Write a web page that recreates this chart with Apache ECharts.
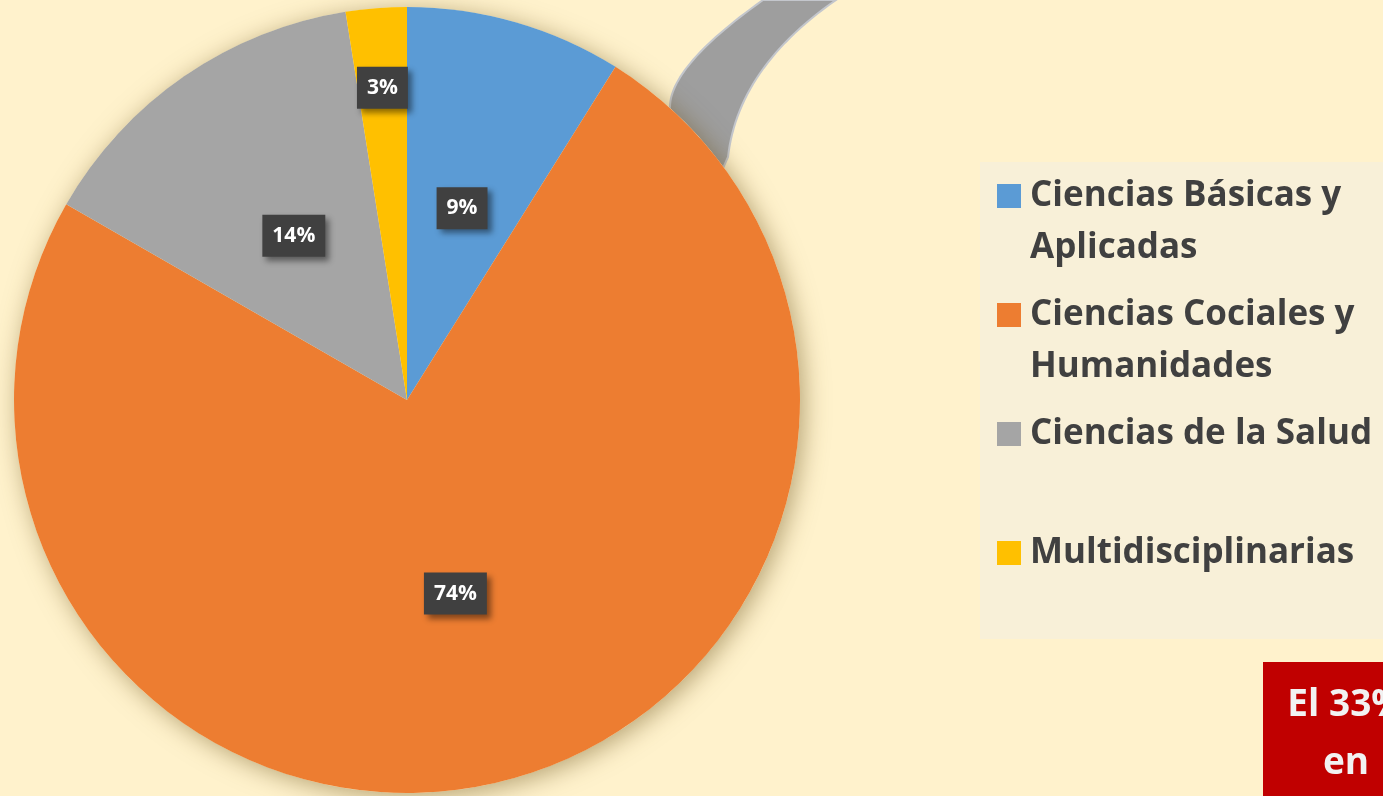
<!DOCTYPE html>
<html>
<head>
<meta charset="utf-8">
<script src="https://cdn.jsdelivr.net/npm/echarts@6/dist/echarts.min.js"></script>
<style>
html,body{margin:0;padding:0;background:#FFF2CC;}
#chart{width:1383px;height:796px;}
</style>
</head>
<body>
<div id="chart"></div>
<script>
const categories = ['Ciencias Básicas y Aplicadas', 'Ciencias Cociales y Humanidades', 'Ciencias de la Salud', 'Multidisciplinarias'];
const values = [8.9, 74.4, 14.2, 2.5];
const legendText = ['Ciencias Básicas y\nAplicadas', 'Ciencias Cociales y\nHumanidades', 'Ciencias de la Salud\n ', 'Multidisciplinarias\n '];
const colors = ['#5B9BD5', '#ED7D31', '#A5A5A5', '#FFC000'];
const noteLines = ['El 33%', 'en'];

const pieCenter = [407, 400];
const pieRadius = 393;
const total = values.reduce((a, b) => a + b, 0);

// decorative curved band (callout arrow shaft) behind the pie
function quad(p0, c, p1, n) {
  const pts = [];
  for (let i = 0; i <= n; i++) {
    const t = i / n, u = 1 - t;
    pts.push([u * u * p0[0] + 2 * u * t * c[0] + t * t * p1[0], u * u * p0[1] + 2 * u * t * c[1] + t * t * p1[1]]);
  }
  return pts;
}
const bandPts = [[640, 180]]
  .concat(quad([670, 107], [670, 66], [763, 0], 30))
  .concat(quad([836, 0], [738, 68], [728, 157], 30))
  .concat([[700, 220]]);

const chart = echarts.init(document.getElementById('chart'));
chart.setOption({
  backgroundColor: '#FFF2CC',
  animation: false,
  legend: {
    data: categories,
    orient: 'vertical',
    left: 980,
    top: 162,
    padding: [8, 80, 8, 17],
    backgroundColor: '#F8F0D8',
    itemGap: 15,
    itemWidth: 24,
    itemHeight: 104,
    icon: 'path://M0,14H24V38H0Z M0,0H0.01V0.01H0Z M0,104H0.01V103.99H0Z',
    selectedMode: false,
    formatter: function (name) { return legendText[categories.indexOf(name)]; },
    textStyle: {
      fontFamily: 'Open Sans',
      fontWeight: 'bold',
      fontSize: 35,
      lineHeight: 52,
      color: '#404040',
      padding: [0, 0, 0, 4]
    }
  },
  graphic: [
    {
      type: 'polygon',
      z: 1,
      shape: { points: bandPts },
      style: { fill: '#9E9E9E', stroke: '#C3C6CC', lineWidth: 2 }
    },
    {
      type: 'rect',
      z: 10,
      shape: { x: 1263, y: 662, width: 200, height: 200 },
      style: { fill: '#C00000' }
    },
    {
      type: 'text',
      z: 11,
      x: 1346,
      y: 676,
      style: {
        text: noteLines.join('\n'),
        fill: '#F2F2F2',
        font: 'bold 37px "Open Sans"',
        lineHeight: 58,
        align: 'center',
        verticalAlign: 'top'
      }
    }
  ],
  series: [
    {
      type: 'pie',
      silent: true,
      z: 2,
      center: pieCenter,
      radius: pieRadius,
      label: { show: false },
      labelLine: { show: false },
      emphasis: { disabled: true },
      data: [{ value: total, name: 'sombra' }],
      itemStyle: {
        color: '#FFF2CC',
        shadowBlur: 24,
        shadowColor: 'rgba(110,85,30,0.5)',
        shadowOffsetX: 4,
        shadowOffsetY: 4
      }
    },
    {
      type: 'pie',
      z: 3,
      center: pieCenter,
      radius: pieRadius,
      startAngle: 90,
      clockwise: true,
      emphasis: { disabled: true },
      data: categories.map((c, i) => ({ name: c, value: values[i], itemStyle: { color: colors[i] } })),
      label: {
        show: true,
        position: 'inside',
        formatter: p => Math.round(p.value) + '%',
        fontFamily: 'Open Sans',
        fontWeight: 'bold',
        fontSize: 21,
        color: '#FFFFFF',
        backgroundColor: '#404040',
        padding: [11, 10, 10, 10],
        shadowBlur: 6,
        shadowColor: 'rgba(0,0,0,0.45)',
        shadowOffsetX: 4,
        shadowOffsetY: 4
      },
      labelLine: { show: false },
      labelLayout: function (params) {
        if (params.dataIndex !== 3) return {};
        const r = params.labelRect;
        const lx = r.x + r.width / 2, ly = r.y + r.height / 2;
        return { dx: (lx - pieCenter[0]) * 0.57, dy: (ly - pieCenter[1]) * 0.57 };
      }
    }
  ]
});
</script>
</body>
</html>
